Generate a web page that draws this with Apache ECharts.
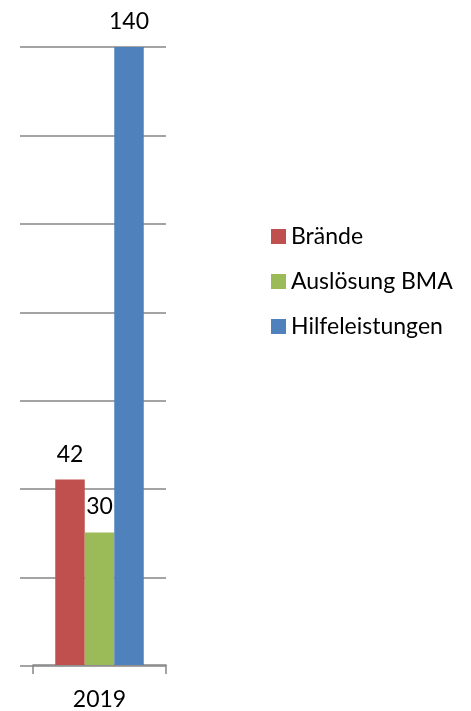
<!DOCTYPE html>
<html>
<head>
<meta charset="utf-8">
<script src="https://cdn.jsdelivr.net/npm/echarts@6/dist/echarts.min.js"></script>
<style>
  html, body { margin: 0; padding: 0; background: #fff; }
  #chart { width: 471px; height: 711px; }
</style>
</head>
<body>
<div id="chart"></div>
<script>
// Einsätze 2019
const categories = ['2019']
const seriesNames = ['Brände', 'Auslösung BMA', 'Hilfeleistungen']
const braende = [42]
const bma = [30]
const hilfe = [140]
const colors = ['#C0504D', '#9BBB59', '#4F81BD']

const font = 'Lato, "Open Sans", sans-serif'
const chart = echarts.init(document.getElementById('chart'))

function bar(name, data, color) {
  return {
    name: name,
    type: 'bar',
    data: data,
    barWidth: 29.5,
    barGap: '0%',
    itemStyle: { color: color },
    label: {
      show: true,
      position: 'top',
      distance: 14,
      color: '#000',
      fontSize: 23,
      fontFamily: font
    }
  }
}

const option = {
  animation: false,
  legend: {
    orient: 'vertical',
    left: 266,
    top: 220,
    itemWidth: 15,
    itemHeight: 15,
    itemGap: 22,
    icon: 'rect',
    textStyle: { fontSize: 23, fontFamily: font, color: '#000' },
    data: seriesNames
  },
  grid: [
    // bars + category axis
    { left: 33, right: 305, top: 47, bottom: 45 },
    // gridlines only (they run a bit further left)
    { left: 20, right: 305, top: 47, bottom: 45 }
  ],
  xAxis: [
    {
      gridIndex: 0,
      type: 'category',
      data: categories,
      axisLine: { lineStyle: { color: '#868686', width: 1.5 } },
      axisTick: { show: true, length: 9, lineStyle: { color: '#868686', width: 1.5 } },
      axisLabel: { color: '#000', fontSize: 23, fontFamily: font, margin: 23 }
    },
    {
      gridIndex: 1,
      type: 'value',
      show: false
    }
  ],
  yAxis: [
    {
      gridIndex: 0,
      type: 'value',
      min: 0,
      max: 140,
      interval: 20,
      show: false
    },
    {
      gridIndex: 1,
      type: 'value',
      min: 0,
      max: 140,
      interval: 20,
      axisLine: { show: false },
      axisTick: { show: false },
      axisLabel: { show: false },
      splitLine: { lineStyle: { color: '#868686', width: 1.5 } }
    }
  ],
  series: [
    bar(seriesNames[0], braende, colors[0]),
    bar(seriesNames[1], bma, colors[1]),
    bar(seriesNames[2], hilfe, colors[2])
  ]
}

chart.setOption(option)
</script>
</body>
</html>
